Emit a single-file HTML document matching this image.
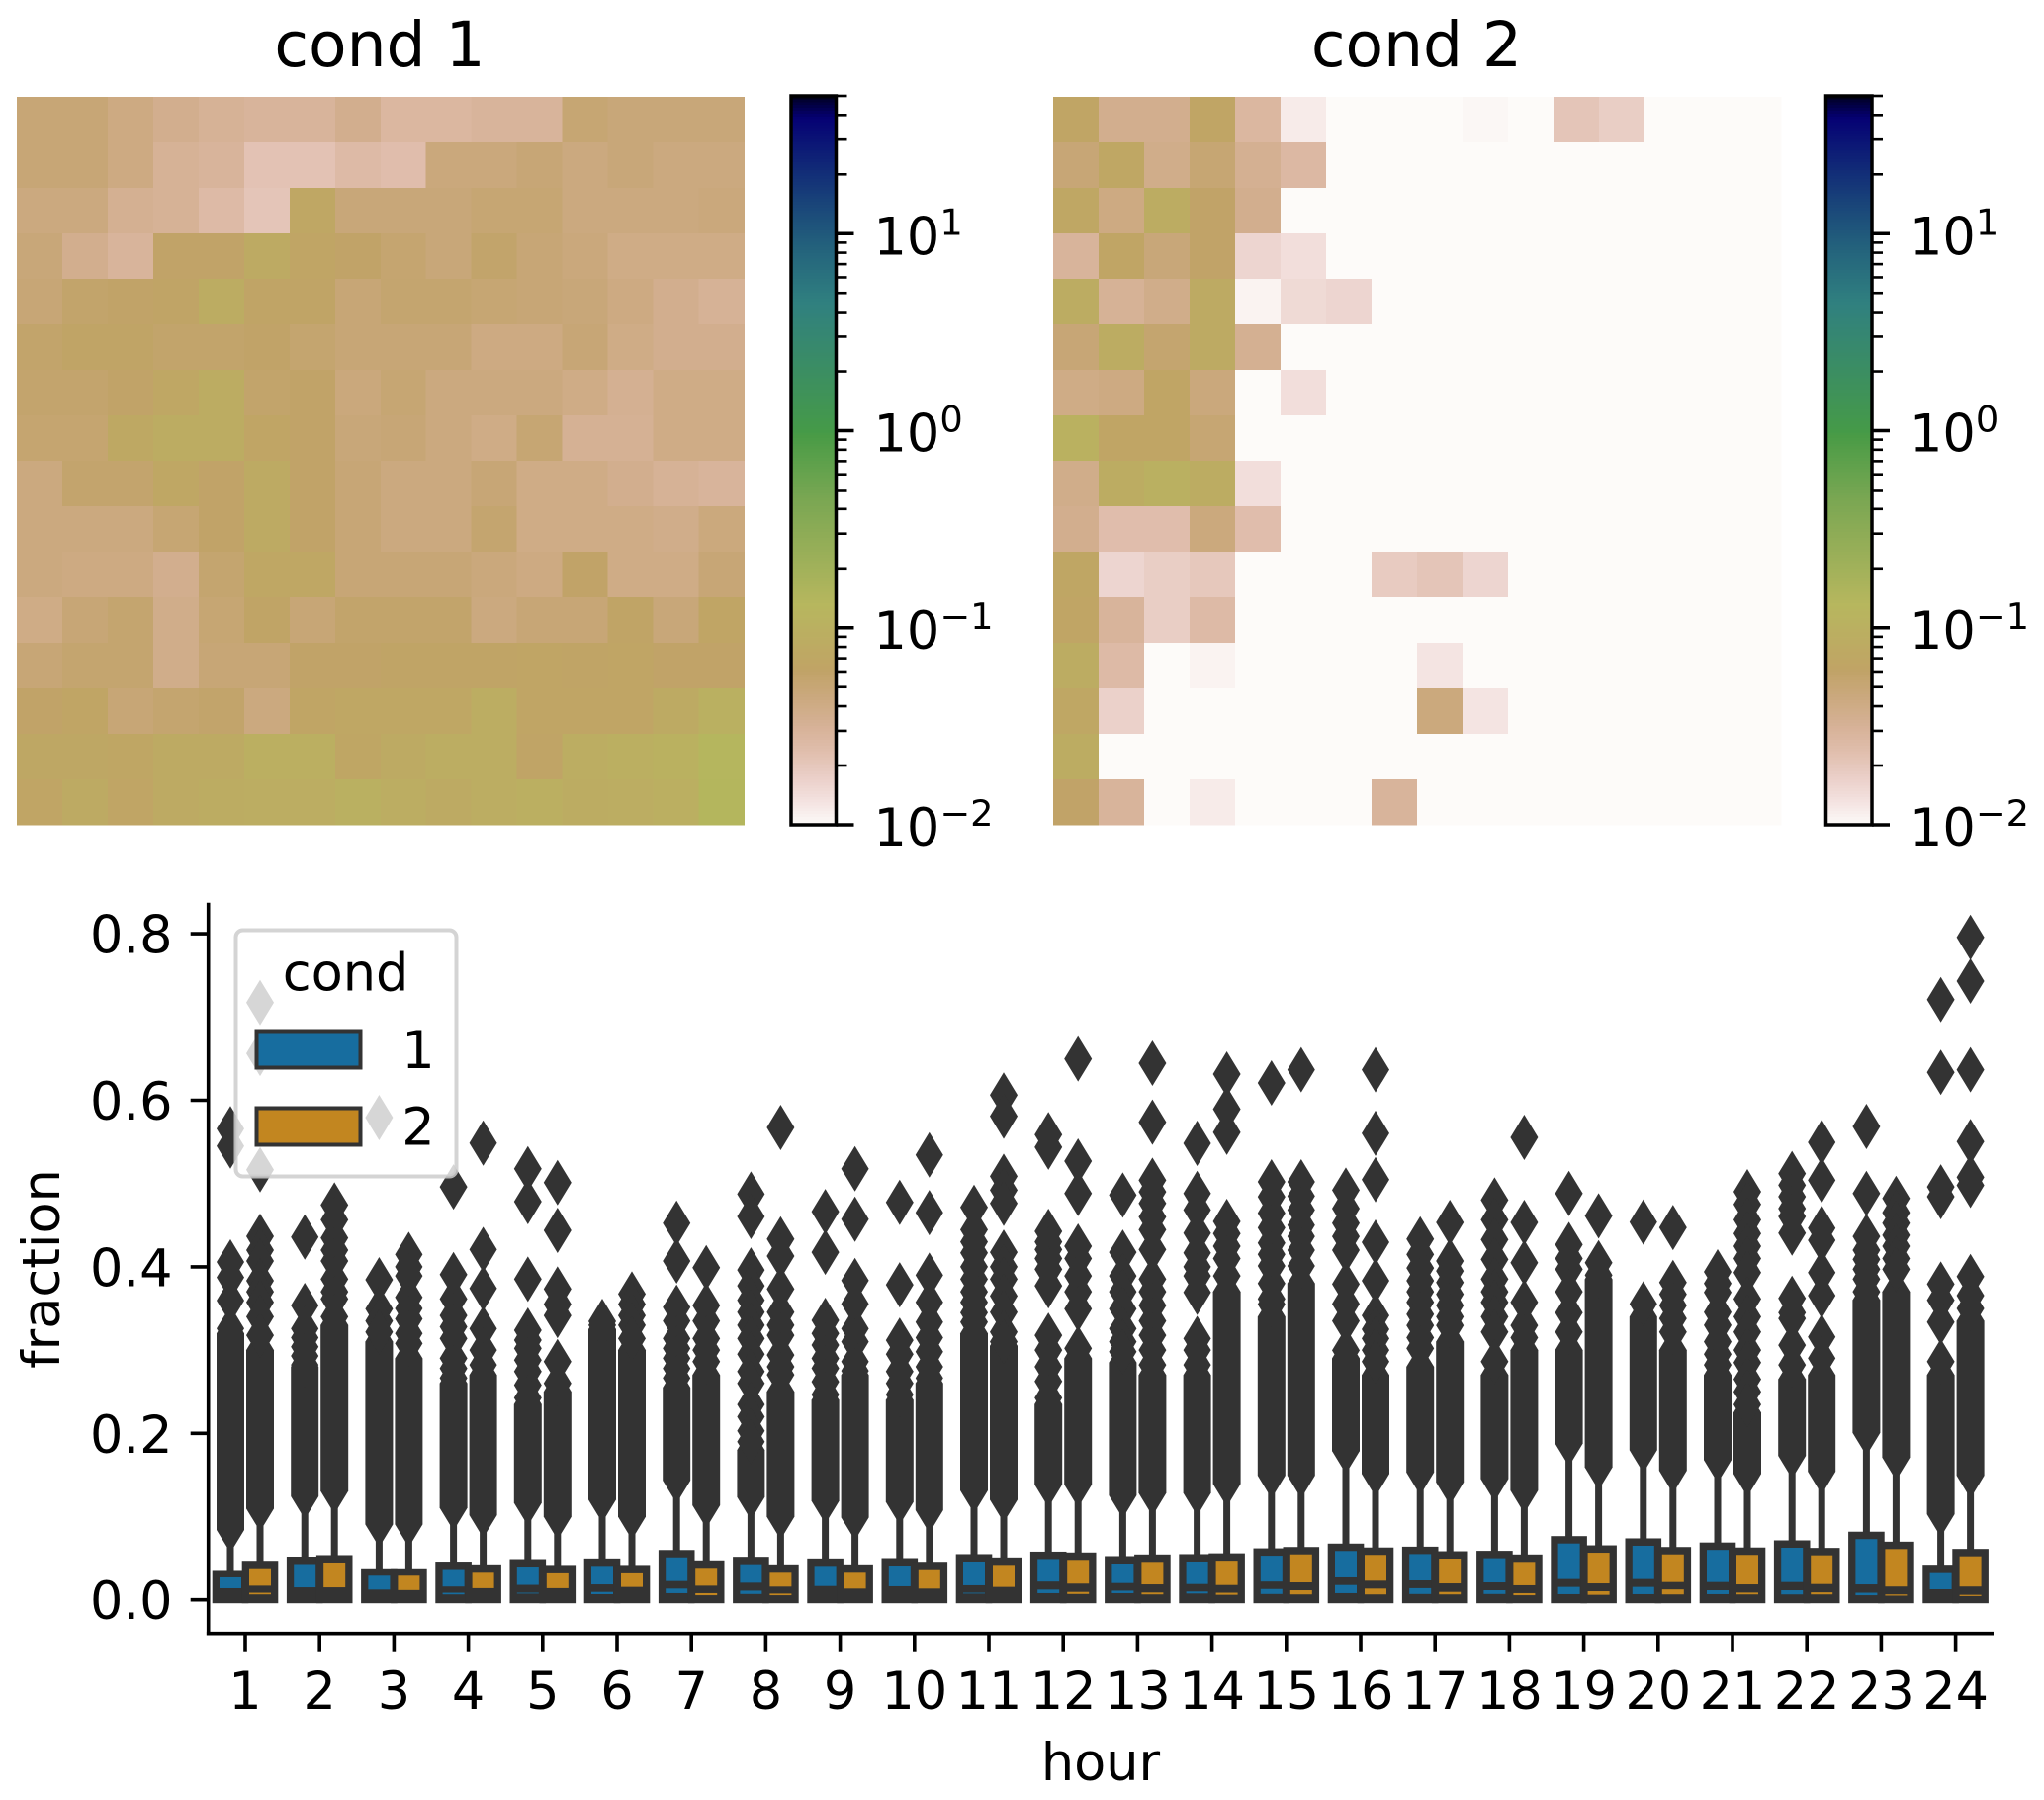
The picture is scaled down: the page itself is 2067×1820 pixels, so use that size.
<!DOCTYPE html>
<html lang="en">
<head>
<meta charset="utf-8">
<title>cond heatmaps and hourly fraction boxen plot</title>
<style>
html,body{margin:0;padding:0;background:#fff;}
svg{display:block;}
text{font-family:"DejaVu Sans","Liberation Sans",sans-serif;fill:#000;}
</style>
</head>
<body>
<svg id="figure" xmlns="http://www.w3.org/2000/svg" width="2067" height="1820" viewBox="0 0 2067 1820">
  <rect width="2067" height="1820" fill="#fff"/>
  <g id="heat1"></g>
  <g id="heat2"></g>
  <g id="cbar1"></g>
  <g id="cbar2"></g>
  <text x="384" y="67" font-size="63" text-anchor="middle">cond 1</text>
  <text x="1432.5" y="67" font-size="63" text-anchor="middle">cond 2</text>
  <g id="boxen"></g>
  <g id="axes"></g>
  <text x="1113" y="1800" font-size="52.5" text-anchor="middle">hour</text>
  <text transform="translate(60,1283) rotate(-90)" font-size="52.5" text-anchor="middle">fraction</text>
  <g>
    <rect x="238.5" y="940.5" width="223" height="249" rx="7" fill="#fff" fill-opacity="0.8" stroke="#ccc" stroke-opacity="0.85" stroke-width="4"/>
    <text x="349.5" y="1001.5" font-size="52.5" text-anchor="middle">cond</text>
    <rect x="259.5" y="1042.5" width="105" height="37" fill="#176d9f" stroke="#333" stroke-width="4"/>
    <text x="423" y="1080" font-size="52.5" text-anchor="middle">1</text>
    <rect x="259.5" y="1120.5" width="105" height="37" fill="#c28620" stroke="#333" stroke-width="4"/>
    <text x="423" y="1157.5" font-size="52.5" text-anchor="middle">2</text>
  </g>
</svg>
<script>
// ---------- heatmap data (fraction per cell, 0 = below colour range) ----------
const heatCond1 = [
 [.05,.05,.042,.036,.032,.03,.03,.036,.028,.028,.03,.03,.052,.048,.048,.048],
 [.05,.05,.042,.032,.03,.022,.022,.026,.024,.046,.046,.05,.044,.048,.044,.044],
 [.044,.044,.034,.032,.026,.021,.07,.048,.048,.048,.052,.052,.044,.044,.044,.046],
 [.048,.036,.03,.06,.06,.08,.065,.06,.054,.048,.058,.05,.046,.04,.04,.04],
 [.05,.058,.06,.062,.085,.062,.062,.05,.055,.055,.052,.05,.048,.042,.036,.032],
 [.058,.062,.062,.058,.058,.06,.055,.05,.05,.05,.042,.042,.05,.04,.036,.036],
 [.056,.056,.06,.07,.085,.058,.06,.046,.052,.044,.044,.044,.04,.034,.04,.04],
 [.054,.054,.075,.085,.085,.066,.06,.048,.05,.044,.04,.052,.033,.033,.04,.04],
 [.044,.056,.056,.07,.06,.08,.06,.05,.044,.044,.05,.04,.04,.036,.032,.03],
 [.044,.044,.044,.052,.06,.08,.06,.05,.044,.044,.055,.04,.04,.04,.038,.045],
 [.044,.042,.042,.036,.055,.07,.07,.05,.05,.05,.046,.042,.06,.04,.04,.05],
 [.04,.05,.055,.038,.052,.062,.05,.058,.058,.058,.044,.05,.05,.062,.048,.065],
 [.05,.055,.055,.038,.05,.05,.06,.06,.062,.062,.062,.065,.062,.065,.06,.06],
 [.06,.065,.05,.055,.058,.044,.065,.07,.07,.07,.09,.065,.065,.065,.08,.1],
 [.072,.072,.068,.08,.08,.095,.095,.068,.08,.09,.09,.062,.09,.095,.105,.135],
 [.066,.08,.066,.08,.085,.09,.09,.1,.09,.08,.09,.095,.085,.09,.095,.14]
];
const heatCond2 = [
 [.065,.036,.036,.065,.028,.012,0,0,0,.0105,0,.021,.018,0,0,0],
 [.05,.07,.038,.052,.034,.027,0,0,0,0,0,0,0,0,0,0],
 [.07,.042,.085,.06,.036,0,0,0,0,0,0,0,0,0,0,0],
 [.03,.065,.048,.06,.016,.014,0,0,0,0,0,0,0,0,0,0],
 [.085,.032,.038,.08,.011,.015,.016,0,0,0,0,0,0,0,0,0],
 [.05,.085,.055,.08,.034,0,0,0,0,0,0,0,0,0,0,0],
 [.04,.042,.065,.046,0,.014,0,0,0,0,0,0,0,0,0,0],
 [.105,.065,.065,.052,0,0,0,0,0,0,0,0,0,0,0,0],
 [.038,.085,.1,.085,.014,0,0,0,0,0,0,0,0,0,0,0],
 [.036,.024,.024,.045,.024,0,0,0,0,0,0,0,0,0,0,0],
 [.068,.016,.018,.02,0,0,0,.019,.021,.016,0,0,0,0,0,0],
 [.065,.03,.018,.026,0,0,0,0,0,0,0,0,0,0,0,0],
 [.085,.026,0,.011,0,0,0,0,.013,0,0,0,0,0,0,0],
 [.07,.017,0,0,0,0,0,0,.045,.013,0,0,0,0,0,0],
 [.085,0,0,0,0,0,0,0,0,0,0,0,0,0,0,0],
 [.06,.03,0,.012,0,0,0,.03,0,0,0,0,0,0,0,0]
];
const cbarMajorExponents = [-2,-1,0,1];
const cbarMinorMultiples = [2,3,4,5,6,7,8,9];

// ---------- boxen plot data ----------
const hours = [1,2,3,4,5,6,7,8,9,10,11,12,13,14,15,16,17,18,19,20,21,22,23,24];
const yTickValues = [0,0.2,0.4,0.6,0.8];
const yTickLabels = ["0.0","0.2","0.4","0.6","0.8"];

const boxTopBlue = [.027,.043,.029,.037,.04,.0408,.051,.0428,.0408,.0412,.046,.049,.0436,.046,.053,.0587,.055,.05,.0677,.065,.06,.0626,.073,.0333];
const boxMidBlue = [.0139,.015,.0123,.016,.018,.0186,.0226,.0206,.0166,.0163,.0175,.022,.0202,.019,.022,.027,.0234,.021,.025,.025,.0214,.0214,.0186,.0127];
const lowerTopBlue = [null,null,null,.0085,.0085,.0095,.0135,.011,null,null,.0085,.0123,.011,.01,.013,.0178,.014,.0115,.0155,.0155,.0115,.0115,.0085,null];
const lowerBotBlue = [null,null,null,.0065,.0075,.0068,.008,.007,null,null,.0075,.008,.008,.0076,.007,.008,.007,.007,.0068,.0068,.0068,.0065,.0055,null];

const boxTopOrange = [.038,.0448,.029,.0337,.033,.033,.0385,.0337,.0337,.0368,.042,.048,.0456,.047,.0546,.054,.0495,.0456,.0566,.0546,.054,.0535,.061,.0523];
const boxMidOrange = [.017,.015,.0117,.014,.014,.0155,.017,.0159,.0135,.0135,.0155,.0195,.0186,.0178,.021,.023,.0198,.0175,.0198,.0214,.0186,.019,.016,.016];
const lowerTopOrange = [.0085,null,null,null,null,null,.008,.0075,null,null,null,.0095,.0088,.0085,.0115,.0135,.0095,.008,.0103,.0125,.0087,.009,.0065,.006];
const lowerBotOrange = [.0065,null,null,null,null,null,.0055,.0055,null,null,null,.007,.0065,.006,.0065,.0065,.0065,.0055,.006,.0065,.0065,.0065,.005,.0045];

// solid runs of overlapping outliers: lowest and highest value of each run
const denseLowBlue = [.084,.1243,.0907,.1105,.1165,.1204,.1433,.1235,.1188,.1176,.1315,.1386,.1255,.1283,.1493,.1788,.1532,.1453,.1877,.1798,.168,.173,.2007,.103];
const denseHighBlue = [.32,.28,.31,.26,.235,.325,.255,.18,.24,.24,.32,.235,.285,.27,.34,.29,.28,.27,.30,.34,.27,.265,.36,.27];
const denseLowOrange = [.1097,.1307,.0907,.1018,.0998,.0998,.1137,.0998,.099,.1077,.1204,.1386,.1283,.1394,.1493,.1513,.1413,.1314,.1592,.1552,.1513,.154,.171,.1493];
const denseHighOrange = [.30,.33,.29,.27,.25,.30,.27,.25,.27,.26,.305,.29,.27,.37,.38,.27,.31,.30,.385,.30,.225,.27,.37,.335];

// individually readable outliers above the solid runs
const outliersBlue = [
 [.5658,.545,.4058,.3872,.3595,.3259],
 [.4358,.3535,.3258,.315,.304,.293,.2822],
 [.5792,.3844,.3495,.335,.3218],
 [.496,.3907,.3614,.3416,.328,.3139,.2901,.278,.2664],
 [.5178,.4782,.3852,.3238,.312,.302,.288,.2743,.258,.2426],
 [.3345,.33],
 [.4525,.407,.3515,.335,.3139,.302,.2901,.278,.2664],
 [.4873,.4604,.3962,.3772,.36,.3456,.33,.3139,.295,.2743,.26,.2347,.22,.203,.19],
 [.4663,.4176,.3357,.32,.306,.29,.2782,.262,.2466],
 [.4774,.3784,.3119,.295,.2743,.26,.2466],
 [.4715,.4446,.43,.4168,.40,.3852,.37,.3574,.345,.3337],
 [.5587,.5437,.4426,.43,.4208,.41,.397,.3772,.3178,.30,.28,.2624,.2426],
 [.4861,.4176,.3891,.37,.3495,.3258,.31,.298],
 [.5483,.4881,.4683,.4406,.4168,.40,.3891,.3693,.3139,.30,.2822],
 [.6208,.502,.484,.4644,.447,.4287,.415,.401,.38,.3614,.355],
 [.4921,.47,.4525,.4366,.42,.3792,.3555,.335,.2996],
 [.4335,.4149,.3985,.3832,.37,.3574,.343,.3297,.315,.302],
 [.4802,.4564,.4327,.4089,.3852,.37,.3574,.34,.3218,.2862],
 [.4881,.4267,.41,.397,.37,.345,.3218],
 [.4537,.3555],
 [.3939,.38,.3693,.3456,.33,.31,.295,.2822],
 [.5119,.498,.4842,.47,.4604,.4406,.3622,.345,.338,.3059,.2822],
 [.5685,.4881,.4366,.42,.4089,.397,.3852,.37],
 [.7209,.6335,.496,.4842,.3792,.36,.3337,.2862]
];
const outliersOrange = [
 [.7173,.6563,.5166,.4367,.42,.407,.3832,.37,.3574,.34,.3178],
 [.4743,.4564,.4347,.42,.407,.3852,.37,.3614,.34],
 [.4149,.40,.3891,.3634,.35,.3376,.32,.308],
 [.5487,.4208,.3741,.3258,.30,.2822],
 [.5012,.4438,.3733,.355,.3416,.2862,.26],
 [.3673,.355,.3416,.33,.3139],
 [.399,.3535,.335,.3139,.30,.2862],
 [.5673,.4335,.4129,.3733,.3456,.33,.3178,.2941,.28,.2703],
 [.5178,.4572,.3836,.3555,.3258,.31,.2862,.275],
 [.5344,.4651,.3899,.3574,.3337,.315,.298,.28,.2664],
 [.6062,.5808,.5087,.492,.4762,.4176,.40,.3852,.365,.3456,.3218,.31],
 [.6497,.527,.4881,.4248,.41,.3891,.37,.3495,.302],
 [.6445,.5737,.504,.49,.4762,.46,.4446,.4208,.3852,.37,.3535,.335,.3178,.30,.2822],
 [.6315,.5893,.5616,.4545,.44,.4248,.41,.3891],
 [.6366,.502,.485,.4683,.45,.4366,.42,.401],
 [.6366,.5603,.5047,.4295,.3832,.3416,.325,.3139,.30,.2862],
 [.4533,.407,.395,.3812,.367,.3535,.34,.3297],
 [.5555,.4533,.405,.3574,.3297,.315],
 [.4612,.405,.39],
 [.4473,.3812,.367,.3535,.338,.3218],
 [.4901,.475,.4564,.44,.4248,.41,.3931,.3614,.34,.3218,.30,.285,.265,.25,.2347],
 [.5495,.504,.4465,.432,.393,.3654,.3159,.2901],
 [.4822,.465,.4525,.438,.4248,.41,.397],
 [.7957,.7431,.6366,.5504,.5075,.4979,.3883,.3654,.35]
];

// ---------- gist_earth_r colormap segments ----------
const cmapRed = [[0,0],[.2824,.1882],[.4588,.2714],[.549,.4719],[.698,.7176],[.7882,.7553],[1,.9922]];
const cmapGreen = [[0,0],[.0275,0],[.1098,.1893],[.1647,.3035],[.2078,.3841],[.2824,.502],[.5216,.6397],[.698,.7171],[.7882,.6392],[.8157,.6549],[.8667,.6991],[.898,.743],[.9412,.8275],[.9647,.8816],[.9961,.9733],[1,.9843]];
const cmapBlue = [[0,0],[.0039,.1684],[.0078,.2212],[.0275,.4329],[.0314,.4549],[.2824,.5004],[.4667,.2748],[.5451,.3205],[.7843,.3961],[.8941,.6651],[1,.977]];

const NS = "http://www.w3.org/2000/svg";
function make(tag, attrs, parent){
  const n = document.createElementNS(NS, tag);
  for (const k in attrs) n.setAttribute(k, attrs[k]);
  parent.appendChild(n);
  return n;
}
function seg(table, t){
  for (let i = 1; i < table.length; i++){
    if (t <= table[i][0]){
      const a = table[i-1], b = table[i];
      return a[1] + (b[1]-a[1]) * (t-a[0]) / (b[0]-a[0]);
    }
  }
  return table[table.length-1][1];
}
function cmap(t){
  const e = 1 - Math.max(0, Math.min(1, t));
  const c = [cmapRed, cmapGreen, cmapBlue].map(function(tb){ return Math.round(seg(tb, e) * 255); });
  return "rgb(" + c.join(",") + ")";
}
const vMin = 0.01, vMax = 50;
function colorNorm(v){
  if (v <= vMin) return 0;
  return Math.log10(v / vMin) / Math.log10(vMax / vMin);
}

// ---------- heatmaps ----------
function drawHeat(groupId, rows, x0, x1, y0, y1){
  const g = document.getElementById(groupId);
  const nr = rows.length, nc = rows[0].length;
  const cw = (x1-x0)/nc, ch = (y1-y0)/nr;
  rows.forEach(function(row, r){
    row.forEach(function(v, c){
      const cell = make("rect", {
        x: x0 + c*cw, y: y0 + r*ch, width: cw + 0.4, height: ch + 0.4,
        fill: cmap(colorNorm(v)), "shape-rendering": "crispEdges"
      }, g);
      
      
    });
  });
}
drawHeat("heat1", heatCond1, 17, 752.5, 98, 834);
drawHeat("heat2", heatCond2, 1065, 1801, 98, 834);

// ---------- colorbars ----------
function drawColorbar(groupId, xl, xr){
  const g = document.getElementById(groupId);
  const yTop = 97, yBot = 834;
  function yScale(v){ return yBot - colorNorm(v) * (yBot - yTop); }
  const steps = 256;
  for (let i = 0; i < steps; i++){
    const seg0 = make("rect", {
      x: xl, y: yBot - (i+1)*(yBot-yTop)/steps, width: xr-xl, height: (yBot-yTop)/steps + 0.6,
      fill: cmap((i+0.5)/steps), "shape-rendering": "crispEdges"
    }, g);
    
    
  }
  const frame = make("rect", {x: xl, y: yTop, width: xr-xl, height: yBot-yTop, fill: "none", stroke: "#000", "stroke-width": 3.5}, g);
  
  
  cbarMajorExponents.forEach(function(ex){
    const base = Math.pow(10, ex);
    const y = yScale(base);
    const tick = make("line", {x1: xr, x2: xr+18, y1: y, y2: y, stroke: "#000", "stroke-width": 3.5}, g);
    
    
    const label = make("text", {x: xr+38, y: y+21, "font-size": 52.5}, g);
    
    
    label.appendChild(document.createTextNode("10"));
    const sup = make("tspan", {dy: -20, "font-size": 36.75}, label);
    sup.textContent = ex < 0 ? "\u2212" + Math.abs(ex) : String(ex);
    cbarMinorMultiples.forEach(function(m){
      const mv = m * base;
      if (mv > vMax) return;
      const my = yScale(mv);
      const minor = make("line", {x1: xr, x2: xr+11, y1: my, y2: my, stroke: "#000", "stroke-width": 2.6}, g);
      
      
    });
  });
}
drawColorbar("cbar1", 800, 845.5);
drawColorbar("cbar2", 1846.5, 1893);

// ---------- boxen axes functions ----------
const xStep = 75.2, xFirst = 248;
function xScale(i){ return xFirst + i * xStep; }
function yScale(v){ return 1617.7 - v * 842; }
const dodge = 15, dark = "#333333";

function drawSeries(offset, color, seriesName, boxTop, boxMid, lowTop, lowBot, denseLow, denseHigh, outliers){
  const g = document.getElementById("boxen");
  hours.forEach(function(h, i){
    const cx = xScale(i) + offset;
    // whisker
    const wh = make("line", {x1: cx, x2: cx, y1: yScale(boxTop[i]), y2: yScale(denseLow[i]), stroke: dark, "stroke-width": 7}, g);
    
    
    // solid run of outliers
    const yl = yScale(denseLow[i]), yh = yScale(denseHigh[i]);
    const band = make("polygon", {
      points: [[cx,yl+23],[cx+14,yl],[cx+14,yh],[cx,yh-23],[cx-14,yh],[cx-14,yl]].map(function(p){return p.join(",");}).join(" "),
      fill: dark
    }, g);
    
    
    // separate outliers
    outliers[i].forEach(function(v){
      const y = yScale(v);
      const d = make("polygon", {
        points: [[cx,y+23],[cx+14,y],[cx,y-23],[cx-14,y]].map(function(p){return p.join(",");}).join(" "),
        fill: dark
      }, g);
      
      
    });
  });
  hours.forEach(function(h, i){
    const cx = xScale(i) + offset;
    // dark outer block
    const top = yScale(boxTop[i]) - 7.5, bottom = yScale(0) + 3.5;
    const block = make("rect", {x: cx-18.3, y: top, width: 36.6, height: bottom-top, fill: dark}, g);
    
    
  });
  hours.forEach(function(h, i){
    const cx = xScale(i) + offset;
    const upper = make("rect", {x: cx-11, y: yScale(boxTop[i]), width: 22, height: yScale(boxMid[i]) - yScale(boxTop[i]), fill: color}, g);
    
    
    if (lowTop[i] !== null){
      const lower = make("rect", {x: cx-11, y: yScale(lowTop[i]), width: 22, height: yScale(lowBot[i]) - yScale(lowTop[i]), fill: color}, g);
      
      
    }
  });
}
drawSeries(-dodge, "#176d9f", "cond-1", boxTopBlue, boxMidBlue, lowerTopBlue, lowerBotBlue, denseLowBlue, denseHighBlue, outliersBlue);
drawSeries(dodge, "#c28620", "cond-2", boxTopOrange, boxMidOrange, lowerTopOrange, lowerBotOrange, denseLowOrange, denseHighOrange, outliersOrange);

// ---------- axes ----------
(function(){
  const g = document.getElementById("axes");
  const left = 210.7, bottom = 1651.7, top = 912.7, right = 2016;
  const ySpine = make("line", {x1: left, x2: left, y1: top, y2: bottom+1.8, stroke: "#000", "stroke-width": 3.6}, g);
  
  
  const xSpine = make("line", {x1: left-1.8, x2: right, y1: bottom, y2: bottom, stroke: "#000", "stroke-width": 3.6}, g);
  
  
  yTickValues.forEach(function(v, i){
    const y = yScale(v);
    const t = make("line", {x1: left-18, x2: left, y1: y, y2: y, stroke: "#000", "stroke-width": 3.6}, g);
    
    
    const l = make("text", {x: 174.5, y: y+19.5, "font-size": 52.5, "text-anchor": "end"}, g);
    
    
    l.textContent = yTickLabels[i];
  });
  hours.forEach(function(h, i){
    const x = xScale(i);
    const t = make("line", {x1: x, x2: x, y1: bottom, y2: bottom+18, stroke: "#000", "stroke-width": 3.6}, g);
    
    
    const l = make("text", {x: x, y: 1728, "font-size": 52.5, "text-anchor": "middle"}, g);
    
    
    l.textContent = String(h);
  });
})();
</script>
</body>
</html>
